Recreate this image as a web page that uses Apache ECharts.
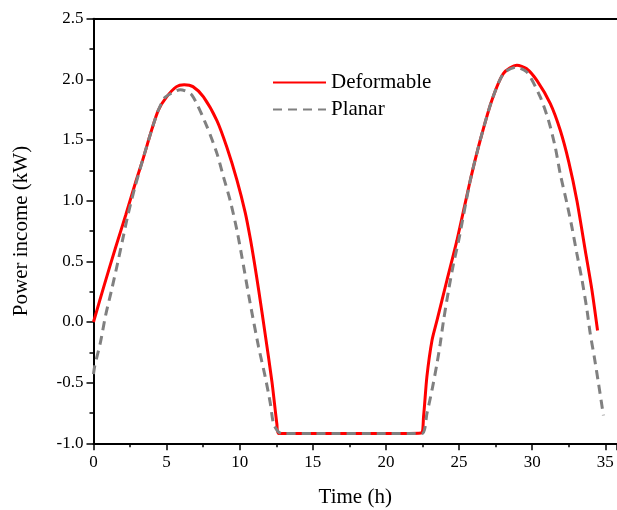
<!DOCTYPE html>
<html>
<head>
<meta charset="utf-8">
<script src="https://cdn.jsdelivr.net/npm/echarts@6/dist/echarts.min.js"></script>
<style>
html,body{margin:0;padding:0;background:#fff;}
#chart{width:617px;height:510px;}
</style>
</head>
<body>
<div id="chart"></div>
<script>
var deformTime = [0, 0.75, 1.5, 2.2, 2.9, 3.35, 3.97, 4.43, 5.0, 5.68, 6.2, 6.8, 7.52, 8.44, 9.12, 9.81, 10.38, 10.72, 11.0, 11.3, 11.74, 12.2, 12.54, 12.66, 15, 20, 22.39, 22.57, 22.8, 23.15, 23.49, 24.17, 24.85, 25.77, 26.45, 27.25, 28.04, 28.96, 29.6, 30.33, 31.24, 31.92, 32.5, 33.06, 33.63, 34.09, 34.47];
var deformPower = [0, 0.31, 0.61, 0.88, 1.16, 1.33, 1.58, 1.745, 1.855, 1.94, 1.955, 1.94, 1.855, 1.66, 1.44, 1.17, 0.90, 0.69, 0.49, 0.26, -0.1, -0.49, -0.84, -0.92, -0.92, -0.92, -0.915, -0.78, -0.45, -0.15, 0.014, 0.344, 0.67, 1.17, 1.50, 1.83, 2.05, 2.116, 2.09, 1.99, 1.80, 1.58, 1.32, 1.0, 0.59, 0.26, -0.07];
var planarTime = [0, 0.09, 0.48, 0.82, 1.23, 1.64, 2.03, 2.37, 2.83, 3.35, 3.97, 4.43, 4.88, 5.4, 5.93, 6.73, 7.76, 8.44, 8.89, 9.35, 9.81, 10.15, 10.72, 11.29, 11.74, 12.09, 12.31, 12.6, 12.88, 15, 20, 22.46, 22.8, 23.15, 23.49, 23.71, 23.94, 24.28, 24.62, 24.97, 25.77, 26.45, 27.25, 28.04, 28.9, 29.64, 30.55, 31.12, 31.58, 31.92, 32.38, 32.72, 33.06, 33.41, 33.75, 33.97, 34.25, 34.54, 34.87];
var planarPower = [-0.43, -0.36, -0.165, 0.05, 0.26, 0.48, 0.70, 0.89, 1.11, 1.33, 1.58, 1.745, 1.85, 1.89, 1.915, 1.87, 1.61, 1.39, 1.195, 1.0, 0.756, 0.536, 0.15, -0.206, -0.45, -0.67, -0.84, -0.9, -0.92, -0.92, -0.92, -0.92, -0.755, -0.56, -0.343, -0.18, 0.014, 0.26, 0.48, 0.67, 1.17, 1.50, 1.83, 2.05, 2.10, 2.06, 1.855, 1.66, 1.44, 1.22, 0.976, 0.78, 0.56, 0.344, 0.096, -0.096, -0.29, -0.51, -0.77];
var seriesNames = ['Deformable', 'Planar'];
var xTitle = 'Time (h)';
var yTitle = 'Power income (kW)';

function zip(a, b) { return a.map(function (v, i) { return [v, b[i]]; }); }

var FONT = '"Liberation Serif", "Times New Roman", serif';
var chart = echarts.init(document.getElementById('chart'), null, {renderer: 'canvas'});
chart.setOption({
  animation: false,
  backgroundColor: '#fff',
  grid: {left: 93.5, right: 0, top: 18.7, bottom: 66.7, containLabel: false, outerBoundsMode: 'none'},
  legend: {
    orient: 'vertical', left: 267, top: 67,
    itemWidth: 53, itemHeight: 14, itemGap: 6,
    itemStyle: {opacity: 0},
    textStyle: {fontFamily: FONT, fontSize: 21, color: '#000'},
    data: seriesNames
  },
  xAxis: [{
    type: 'value', min: 0, max: 35.8, interval: 5,
    name: xTitle, nameLocation: 'middle', nameGap: 44,
    nameTextStyle: {fontFamily: FONT, fontSize: 21, color: '#000'},
    axisLine: {onZero: false, lineStyle: {color: '#000', width: 2}},
    axisTick: {show: true, inside: false, length: 7, lineStyle: {color: '#000', width: 1.5}},
    minorTick: {show: true, splitNumber: 2, length: 4, lineStyle: {color: '#000', width: 1.5}},
    axisLabel: {fontFamily: FONT, fontSize: 17, color: '#000', margin: 11,
      formatter: function (v) { return v > 35 ? '' : String(v); }},
    splitLine: {show: false}
  }, {
    type: 'value', position: 'top', min: 0, max: 35.8,
    axisLine: {show: true, onZero: false, lineStyle: {color: '#000', width: 2}},
    axisTick: {show: false}, axisLabel: {show: false}, splitLine: {show: false}
  }],
  yAxis: [{
    type: 'value', min: -1.0, max: 2.5, interval: 0.5,
    name: yTitle, nameLocation: 'middle', nameGap: 62, nameRotate: 90,
    nameTextStyle: {fontFamily: FONT, fontSize: 21, color: '#000'},
    axisLine: {onZero: false, lineStyle: {color: '#000', width: 2}},
    axisTick: {show: true, inside: false, length: 7, lineStyle: {color: '#000', width: 1.5}},
    minorTick: {show: true, splitNumber: 2, length: 4, lineStyle: {color: '#000', width: 1.5}},
    axisLabel: {fontFamily: FONT, fontSize: 17, color: '#000', margin: 10,
      formatter: function (v) { return v.toFixed(1); }},
    splitLine: {show: false}
  }],
  series: [{
    name: seriesNames[0], type: 'line', data: zip(deformTime, deformPower),
    symbol: 'none', smooth: 0.25, z: 3,
    lineStyle: {color: '#ff0000', width: 3}, itemStyle: {color: '#ff0000'}
  }, {
    name: seriesNames[1], type: 'line', data: zip(planarTime, planarPower),
    symbol: 'none', smooth: 0.25, z: 4,
    lineStyle: {color: '#808080', width: 3, type: [9, 6]}, itemStyle: {color: '#808080'}
  }]
});
</script>
</body>
</html>
